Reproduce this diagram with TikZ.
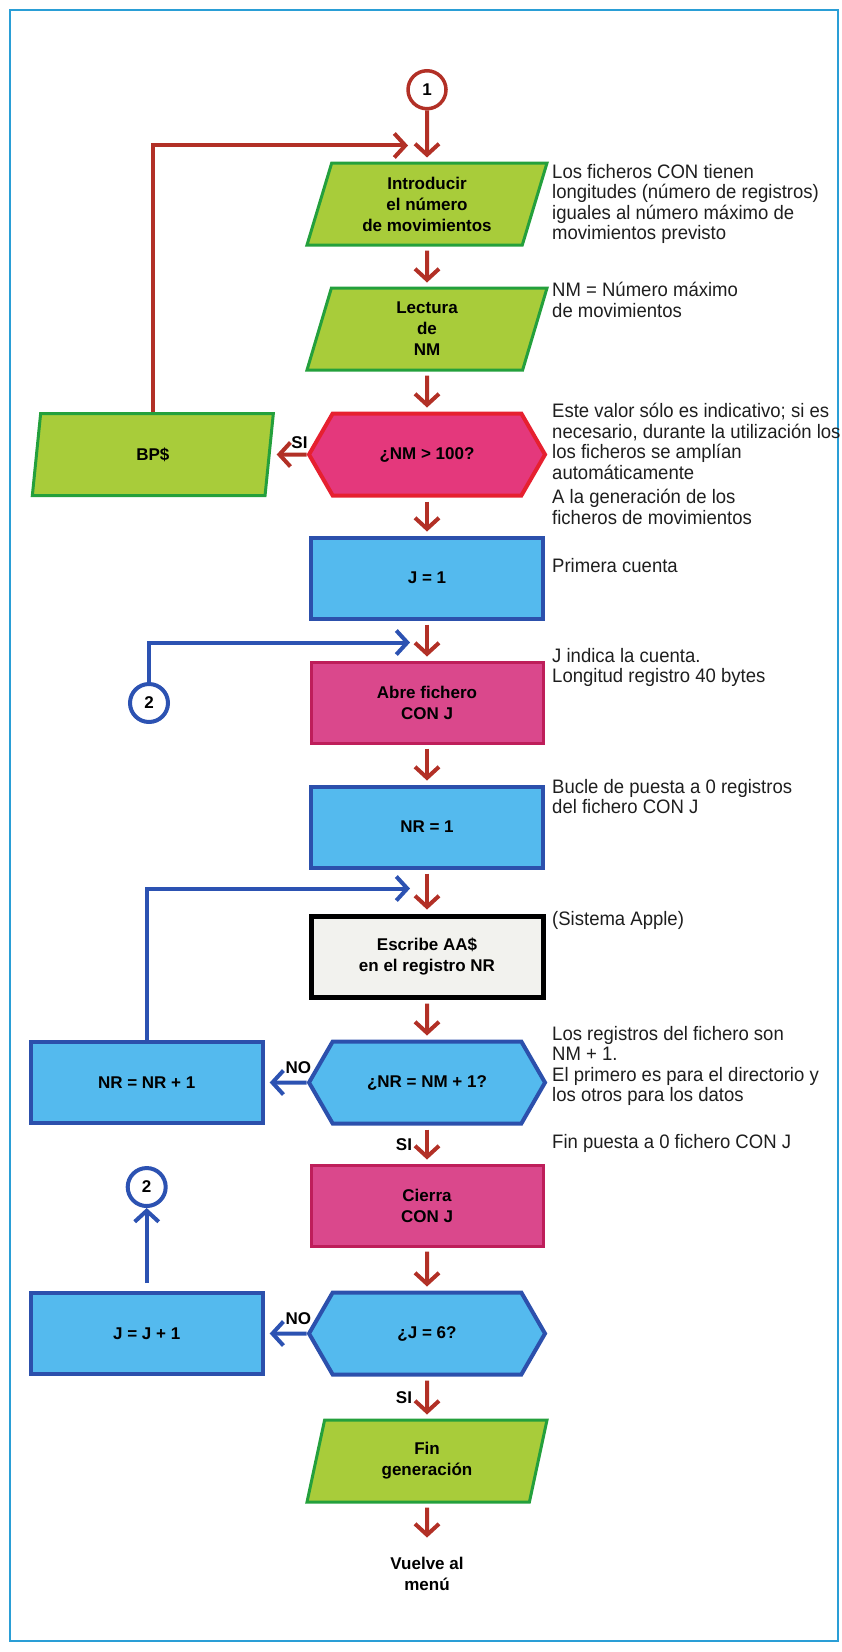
\documentclass[tikz,border=0pt]{standalone}
\usepackage{fontspec}
\setmainfont{Liberation Sans}
\newfontfamily\notesfamily[FakeStretch=0.95]{Liberation Sans}
\usetikzlibrary{
    positioning,        % below=of, left=of
    arrows.meta,        % puntas Straight Barb
    shapes.geometric,   % trapezium (entrada/salida)
    shapes.symbols      % signal (hexagono de decision)
}
\definecolor{io_fill}{RGB}{168,204,58}
\definecolor{io_line}{RGB}{36,160,60}
\definecolor{hex_fill}{RGB}{228,56,124}
\definecolor{hex_line}{RGB}{230,32,48}
\definecolor{file_fill}{RGB}{218,72,140}
\definecolor{file_line}{RGB}{190,30,90}
\definecolor{proc_fill}{RGB}{84,186,238}
\definecolor{proc_line}{RGB}{44,80,172}
\definecolor{write_fill}{RGB}{242,242,238}
\definecolor{flow_red}{RGB}{178,48,38}
\definecolor{flow_blue}{RGB}{44,82,178}
\definecolor{frame_blue}{RGB}{42,158,214}
\definecolor{note_text}{RGB}{30,30,30}
\newcommand{\boxfont}{\fontsize{17}{21}\selectfont\bfseries}
\newcommand{\notesfont}{\notesfamily\fontsize{19.5}{20.5}\selectfont}
\tikzset{
    io/.style={
        trapezium, trapezium left angle=68, trapezium right angle=112,
        trapezium stretches body,
        draw=io_line, fill=io_fill, line width=3pt,
        minimum width=240pt, minimum height=82pt,
        align=center, font=\boxfont
    },
    decision/.style={
        signal, signal to=west and east, signal pointer angle=120,
        draw=proc_line, fill=proc_fill, line width=4pt,
        minimum width=236pt, minimum height=82pt,
        align=center, font=\boxfont
    },
    proc/.style={
        rectangle, draw=proc_line, fill=proc_fill, line width=4pt,
        minimum width=232pt, minimum height=81pt,
        align=center, font=\boxfont
    },
    filebox/.style={
        proc, draw=file_line, fill=file_fill, line width=3pt
    },
    writebox/.style={
        proc, draw=black, fill=write_fill, line width=5pt
    },
    connector/.style={
        circle, draw, fill=white, line width=3.5pt,
        minimum size=38pt, inner sep=0pt, font=\boxfont
    },
    flow/.style={
        -{Straight Barb[length=11pt,width=24pt]}, line width=4pt, draw=flow_red
    },
    flowback/.style={
        flow, draw=flow_blue
    },
    tagtext/.style={
        font=\boxfont, inner sep=1pt
    },
    note/.style={
        anchor=north west, inner sep=0pt, align=left,
        font=\notesfont, text=note_text
    }
}

\begin{document}
\begin{tikzpicture}[x=1pt, y=1pt]
    \useasboundingbox (0,0) rectangle (842,-1652);
    \draw[frame_blue, line width=2.5pt] (10,-10) rectangle (838,-1641);

    % columna principal
    \node[io] (intro) at (427,-204) {Introducir\\el número\\de movimientos};
    \node[io, below=40pt of intro] (readnm) {Lectura\\de\\NM};
    \node[decision, draw=hex_line, fill=hex_fill, below=40pt of readnm] (bignm) {¿NM > 100?};
    \node[proc, below=38pt of bignm] (jone) {J = 1};
    \node[filebox, below=40pt of jone] (open) {Abre fichero\\CON J};
    \node[proc, below=40pt of open] (nrone) {NR = 1};
    \node[writebox, below=44pt of nrone] (writenr) {Escribe AA\$\\en el registro NR};
    \node[decision, below=40pt of writenr] (lastnr) {¿NR = NM + 1?};
    \node[filebox, below=38pt of lastnr] (close) {Cierra\\CON J};
    \node[decision, below=43pt of close] (lastj) {¿J = 6?};
    \node[io, below=42pt of lastj] (fin) {Fin\\generación};
    \node[tagtext, align=center, below=52pt of fin] (menu) {Vuelve al\\menú};

    % ramas de la izquierda y conectores
    \node[io, minimum width=241pt, left=36pt of bignm] (bps) {BP\$};
    \node[proc, left=42pt of lastnr] (nrinc) {NR = NR + 1};
    \node[proc, left=42pt of lastj] (jinc) {J = J + 1};
    \node[connector, draw=flow_red, above=51pt of intro] (one) {1};
    \node[connector, draw=flow_blue, line width=4pt] (twoin) at (149,-703) {2};
    \node[connector, draw=flow_blue, line width=4pt, above=83pt of jinc] (twoout) {2};

    % flechas
    \draw[flow, shorten >=4pt] (one) -- (intro);
    \draw[flow, shorten <=4pt, shorten >=4pt] (intro) -- (readnm);
    \draw[flow, shorten <=4pt, shorten >=4pt] (readnm) -- (bignm);
    \draw[flow, shorten <=4pt, shorten >=4pt] (bignm) -- (jone);
    \draw[flow, shorten <=4pt, shorten >=4pt] (jone) -- (open);
    \draw[flow, shorten <=4pt, shorten >=4pt] (open) -- (nrone);
    \draw[flow, shorten <=4pt, shorten >=4pt] (nrone) -- (writenr);
    \draw[flow, shorten <=4pt, shorten >=4pt] (writenr) -- (lastnr);
    \draw[flow, shorten <=4pt, shorten >=4pt] (lastnr) -- node[tagtext, left=12pt] {SI} (close);
    \draw[flow, shorten <=4pt, shorten >=4pt] (close) -- (lastj);
    \draw[flow, shorten <=4pt, shorten >=4pt] (lastj) -- node[tagtext, left=12pt] {SI} (fin);
    \draw[flow, shorten <=4pt, shorten >=18pt] (fin) -- (menu);

    \draw[flow, shorten >=6pt] (bignm) -- node[tagtext, above=3pt, pos=0.2] {SI} (bps);
    \coordinate (backtop) at ([xshift=-19pt, yshift=16pt]intro.north);
    \draw[flow] (bps.north) |- (backtop);

    \coordinate (backopen) at ([xshift=-17pt, yshift=18pt]open.north);
    \draw[flowback] (twoin) |- (backopen);
    \coordinate (backwrite) at ([xshift=-17pt, yshift=25pt]writenr.north);
    \draw[flowback] (nrinc) |- (backwrite);
    \draw[flowback, shorten >=5pt] (lastnr) -- node[tagtext, above=6pt, pos=0.2] {NO} (nrinc);
    \draw[flowback, shorten >=5pt] (lastj) -- node[tagtext, above=6pt, pos=0.2] {NO} (jinc);
    \draw[flowback, shorten <=8pt] (jinc) -- (twoout);

    % notas de la derecha
    \node[note] (notefiles) at (552,-164) {Los ficheros CON tienen\\longitudes (número de registros)\\iguales al número máximo de\\movimientos previsto};
    \node[note] (notenm) at (552,-282) {NM = Número máximo\\de movimientos};
    \node[note] (notesize) at (552,-403) {Este valor sólo es indicativo; si es\\necesario, durante la utilización los\\los ficheros se amplían\\automáticamente};
    \node[note] (notegen) at (552,-489) {A la generación de los\\ficheros de movimientos};
    \node[note] (notefirst) at (552,-558) {Primera cuenta};
    \node[note] (notecount) at (552,-648) {J indica la cuenta.\\Longitud registro 40 bytes};
    \node[note] (noteloop) at (552,-779) {Bucle de puesta a 0 registros\\del fichero CON J};
    \node[note] (noteapple) at (552,-911) {(Sistema Apple)};
    \node[note] (noterecs) at (552,-1026) {Los registros del fichero son\\NM + 1.\\El primero es para el directorio y\\los otros para los datos};
    \node[note] (noteend) at (552,-1134) {Fin puesta a 0 fichero CON J};
\end{tikzpicture}
\end{document}
